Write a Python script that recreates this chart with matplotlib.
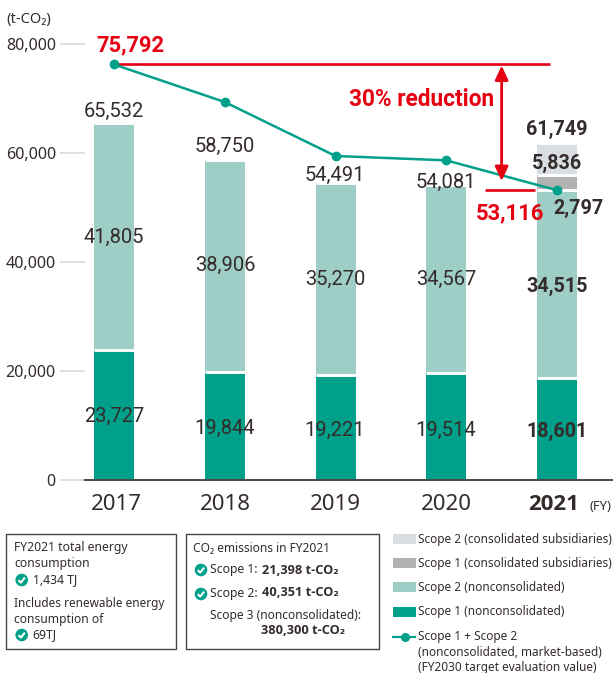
import matplotlib
matplotlib.use("Agg")
import matplotlib.pyplot as plt
from matplotlib.patches import Rectangle, Circle, FancyArrowPatch

years = ["2017", "2018", "2019", "2020", "2021"]
scope1_non = [23727, 19844, 19221, 19514, 18601]
scope2_non = [41805, 38906, 35270, 34567, 34515]
scope1_sub = [0, 0, 0, 0, 2797]
scope2_sub = [0, 0, 0, 0, 5836]
line_vals = [76200, 69300, 59400, 58600, 53116]
yticks = [0, 20000, 40000, 60000, 80000]
ytick_labels = ["0", "20,000", "40,000", "60,000", "80,000"]

TEAL, LTEAL, LGREY, GREY, RED, INK = "#00a08a", "#9ecec6", "#d9dee3", "#b0b2b4", "#e60012", "#332c2a"
W, H = 613, 673
fig = plt.figure(figsize=(W/100, H/100), dpi=100)
SANS = ["Noto Sans", "DejaVu Sans"]
BOLDSANS = ["Open Sans", "DejaVu Sans"]
NARROW = ["Roboto", "DejaVu Sans"]
plt.rcParams["font.family"] = SANS

base_py = 479.7
ax = fig.add_axes([85/W, 1-base_py/H, (W-85)/W, base_py/H])
ax.set_xlim((85-114)/110.75, (613-114)/110.75)
ax.set_ylim(0, base_py*183.5)
x = list(range(5))
bw = 40/110.75
bot = [0]*5
for vals, col in [(scope1_non, TEAL), (scope2_non, LTEAL), (scope1_sub, GREY), (scope2_sub, LGREY)]:
    ax.bar(x, vals, bw, bottom=bot, color=col, zorder=2)
    bot = [b+v for b, v in zip(bot, vals)]
    for xi, b, v in zip(x, bot, vals):
        if v:
            ax.hlines(b, xi-bw/2, xi+bw/2, color="white", lw=2.1, zorder=3)
ax.plot(x, line_vals, color=TEAL, lw=1.8, marker="o", ms=6, zorder=6)
ax.hlines(line_vals[0], 0, 3.937, color=RED, lw=1.9, zorder=5)
ax.hlines(line_vals[4], 3.35, 3.80, color=RED, lw=1.9, zorder=5)
ax.add_patch(FancyArrowPatch((3.50, 76000), (3.50, 54800), arrowstyle="<|-|>,head_length=0.5,head_width=0.23",
                             mutation_scale=17, color=RED, lw=2.0, shrinkA=0, shrinkB=0, zorder=7))
for s in ["top", "right", "left"]:
    ax.spines[s].set_visible(False)
ax.spines["bottom"].set_color("#4a4a4a")
ax.spines["bottom"].set_linewidth(1.4)
ax.set_xticks([])
ax.set_yticks(yticks, ytick_labels)
ax.tick_params(axis="y", length=18, width=1.3, color="#dcdcdc", pad=3, labelsize=11.6, labelcolor=INK)
ax.yaxis.get_major_ticks()[0].tick1line.set_color("#4a4a4a")
ax.patch.set_alpha(0)

ov = fig.add_axes([0, 0, 1, 1], zorder=10)
ov.set_xlim(0, W); ov.set_ylim(H, 0); ov.axis("off")

def T(px, py, s, size=8.5, weight="normal", color=INK, ha="left", fam=SANS):
    ov.text(px, py, s, fontsize=size, fontweight=weight, color=color, ha=ha, va="center", family=fam)

T(6, 19, "(t-CO₂)", 10.6)
plain = [(114,111,"65,532"),(225,146,"58,750"),(335,175,"54,491"),(446,182,"54,081"),
         (114,237,"41,805"),(225,265,"38,906"),(335,279,"35,270"),(446,279,"34,567"),
         (114,416,"23,727"),(225,428,"19,844"),(335,430,"19,221"),(446,430,"19,514")]
for px, py, s in plain:
    T(px, py, s, 14.5, ha="center", fam=NARROW)
for px, py, s in [(557,129,"61,749"),(557,163,"5,836"),(578,208,"2,797"),(557,286,"34,515"),(557,431,"18,601")]:
    T(px, py, s, 14.2, "bold", ha="center", fam=NARROW)
T(130.5, 45, "75,792", 15.8, "bold", RED, "center", NARROW)
T(510, 213, "53,116", 15.8, "bold", RED, "center", NARROW)
T(422, 100, "30% reduction", 16.3, "bold", RED, "center", NARROW)
for px, s in zip([116, 225, 335, 446], years[:4]):
    T(px, 504, s, 16, ha="center")
T(554, 504, years[4], 16, "bold", ha="center", fam=BOLDSANS)
T(600, 507, "(FY)", 9.3, ha="center")

for x0, x1 in [(6, 176), (185.5, 379)]:
    ov.add_patch(Rectangle((x0, 534), x1-x0, 115, fc="white", ec="#444444", lw=1.0))

def check(px, py):
    ov.add_patch(Circle((px, py), 6.3, fc=TEAL, ec="none"))
    ov.plot([px-3.2, px-0.8, px+3.2], [py+0.2, py+2.6, py-2.4], color="white", lw=1.5, solid_capstyle="butt")

T(14, 548, "FY2021 total energy", 8.8)
T(14, 564, "consumption", 8.8)
check(21.7, 580); T(33, 580, "1,434 TJ", 8.8)
T(14, 603, "Includes renewable energy")
T(14, 619, "consumption of", 8.7)
check(21.7, 635); T(32, 635, "69TJ", 8.8)

T(193, 548, "CO₂ emissions in FY2021", 8.6)
check(201, 570); T(209.5, 570, "Scope 1:", 8.8); T(262, 570, "21,398 t-CO₂", weight="bold", fam=BOLDSANS, size=9.2)
check(201, 594); T(209.5, 593, "Scope 2:", 8.8); T(262, 593, "40,351 t-CO₂", weight="bold", fam=BOLDSANS, size=9.2)
T(209.5, 615.5, "Scope 3 (nonconsolidated):", 8.6)
T(261, 631, "380,300 t-CO₂", weight="bold", fam=BOLDSANS, size=9.2)

for py, col, s in [(539, LGREY, "Scope 2 (consolidated subsidiaries)"),
                   (563, GREY, "Scope 1 (consolidated subsidiaries)"),
                   (587, LTEAL, "Scope 2 (nonconsolidated)"),
                   (612, TEAL, "Scope 1 (nonconsolidated)")]:
    ov.add_patch(Rectangle((393, py-5), 23, 10, fc=col, ec="none"))
    T(418, py, s)
ov.plot([393, 415], [636.5, 636.5], color=TEAL, lw=1.6)
ov.plot([405], [636.5], "o", color=TEAL, ms=5.5)
T(418, 636.5, "Scope 1 + Scope 2")
T(418, 652.5, "(nonconsolidated, market-based)")
T(418, 668, "(FY2030 target evaluation value)")

fig.savefig("out.png", dpi=100)
